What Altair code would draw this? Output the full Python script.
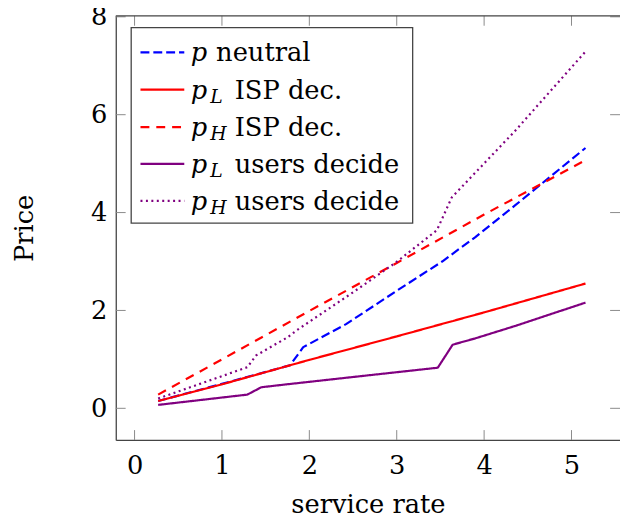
import altair as alt
import pandas as pd

# ---- data ----
x_neutral = [0.27, 1.0, 1.78, 1.93, 2.42, 2.99, 3.52, 3.90, 4.35, 5.16]
p_neutral = [0.15, 0.50, 0.88, 1.25, 1.72, 2.39, 3.00, 3.50, 4.14, 5.32]

x_isp = [0.27, 1.0, 2.0, 3.0, 4.0, 5.16]
pL_isp = [0.15, 0.49, 0.99, 1.47, 1.96, 2.55]
pH_isp = [0.28, 1.0, 1.99, 2.97, 3.96, 5.07]

x_usersL = [0.27, 1.29, 1.45, 1.74, 2.5, 3.47, 3.64, 3.90, 4.35, 5.16]
pL_users = [0.07, 0.28, 0.43, 0.49, 0.64, 0.83, 1.30, 1.43, 1.68, 2.16]

x_usersH = [0.27, 1.29, 1.39, 1.75, 1.86, 2.5, 2.99, 3.46, 3.63, 4.35, 5.16]
pH_users = [0.20, 0.84, 1.08, 1.45, 1.60, 2.37, 2.98, 3.64, 4.31, 5.66, 7.29]

x_ticks = [0, 1, 2, 3, 4, 5]
y_ticks = [0, 2, 4, 6, 8]

# legend entries: (main symbol, subscript, rest)
leg_main = ["p", "p", "p", "p", "p"]
leg_sub = ["", "L", "H", "L", "H"]
leg_rest = ["neutral", "ISP dec.", "ISP dec.", "users decide", "users decide"]

# ---- styles ----
W, H = 510, 429
FONT = "DejaVu Serif"
FS = 26
colors = ["#0000ff", "#ff0000", "#ff0000", "#800080", "#800080"]
dashes = [[9, 4], [1, 0], [9, 7], [1, 0], [2, 3.5]]
series_x = [x_neutral, x_isp, x_isp, x_usersL, x_usersH]
series_y = [p_neutral, pL_isp, pH_isp, pL_users, pH_users]

xs = alt.Scale(domain=[-0.215, 5.555], nice=False, zero=False)
ys = alt.Scale(domain=[-0.647, 8.02], nice=False, zero=False)

x_axis = alt.Axis(values=x_ticks, grid=False, ticks=False, tickSize=0, domain=True,
                  domainColor="#444", domainWidth=1.3, labelFont=FONT, labelFontSize=FS,
                  labelColor="#000", labelBaseline="alphabetic", labelPadding=34,
                  labelFlush=False, labelOverlap=False, labelBound=False,
                  title="service rate", titleFont=FONT, titleFontSize=FS,
                  titleFontWeight="normal", titleColor="#000",
                  titleX=W / 2, titleY=73, titleBaseline="alphabetic", titleAlign="center")
y_axis = alt.Axis(values=y_ticks, grid=False, ticks=False, tickSize=0, domain=True,
                  domainColor="#444", domainWidth=1.3, labelFont=FONT, labelFontSize=FS,
                  labelColor="#000", labelBaseline="middle", labelPadding=9,
                  labelFlush=False, labelOverlap=False, labelBound=False,
                  title="Price", titleFont=FONT, titleFontSize=FS,
                  titleFontWeight="normal", titleColor="#000",
                  titleX=-92.7, titleY=H / 2, titleAngle=270, titleBaseline="middle",
                  titleAlign="center")


def X(field):
    return alt.X(field, scale=xs, axis=x_axis)


def Y(field):
    return alt.Y(field, scale=ys, axis=y_axis)


layers = []
for i in range(5):
    df = pd.DataFrame({"x": series_x[i], "y": series_y[i]})
    layers.append(
        alt.Chart(df).mark_line(color=colors[i], strokeDash=dashes[i], strokeWidth=2.2,
                                strokeCap="butt", strokeJoin="round").encode(
            x=X("x:Q"), y=Y("y:Q"))
    )

# inward ticks (pgfplots style)
tick_col = "#8a8a8a"
xt = pd.DataFrame({"x": x_ticks})
yt = pd.DataFrame({"y": y_ticks})
layers.append(alt.Chart(xt).mark_rule(color=tick_col, strokeWidth=1).encode(
    x=X("x:Q"), y=alt.value(H - 10), y2=alt.value(H)))
layers.append(alt.Chart(xt).mark_rule(color=tick_col, strokeWidth=1).encode(
    x=X("x:Q"), y=alt.value(0), y2=alt.value(10)))
layers.append(alt.Chart(yt).mark_rule(color=tick_col, strokeWidth=1).encode(
    y=Y("y:Q"), x=alt.value(0), x2=alt.value(10)))
layers.append(alt.Chart(yt).mark_rule(color=tick_col, strokeWidth=1).encode(
    y=Y("y:Q"), x=alt.value(W - 10), x2=alt.value(W)))

one = pd.DataFrame({"a": [0]})
# top border
layers.append(alt.Chart(one).mark_rule(color="#444", strokeWidth=1.3).encode(
    x=alt.value(0), x2=alt.value(W), y=alt.value(0)))

# legend box
layers.append(alt.Chart(one).mark_rect(fill="white", stroke="#444", strokeWidth=1.3).encode(
    x=alt.value(15.6), x2=alt.value(300.3), y=alt.value(12), y2=alt.value(209.7)))

row_y = [37, 74.7, 112.5, 149.8, 187.2]
rest_x = [101.5, 120.3, 120.3, 120.3, 120.3]
for i in range(5):
    ry = row_y[i]
    layers.append(alt.Chart(one).mark_rule(color=colors[i], strokeDash=dashes[i],
                                           strokeWidth=2.2, strokeCap="butt").encode(
        x=alt.value(25), x2=alt.value(69.3), y=alt.value(ry)))
    layers.append(alt.Chart(pd.DataFrame({"t": [leg_main[i]]})).mark_text(
        font=FONT, fontSize=FS, fontStyle="italic", align="left", baseline="alphabetic",
        color="#000").encode(text="t:N", x=alt.value(75.8), y=alt.value(ry + 9)))
    if leg_sub[i]:
        layers.append(alt.Chart(pd.DataFrame({"t": [leg_sub[i]]})).mark_text(
            font=FONT, fontSize=19, fontStyle="italic", align="left", baseline="alphabetic",
            color="#000").encode(text="t:N", x=alt.value(95.5), y=alt.value(ry + 13.5)))
    layers.append(alt.Chart(pd.DataFrame({"t": [leg_rest[i]]})).mark_text(
        font=FONT, fontSize=FS, align="left", baseline="alphabetic",
        color="#000").encode(text="t:N", x=alt.value(rest_x[i]), y=alt.value(ry + 9)))

chart = alt.layer(*layers).properties(
    width=W, height=H,
    autosize=alt.AutoSizeParams(type="none"),
    padding={"left": 109, "top": 5, "right": 0, "bottom": 78},
).configure_view(stroke=None)

chart.save("out.html", embed_options={"renderer": "svg", "actions": False})
